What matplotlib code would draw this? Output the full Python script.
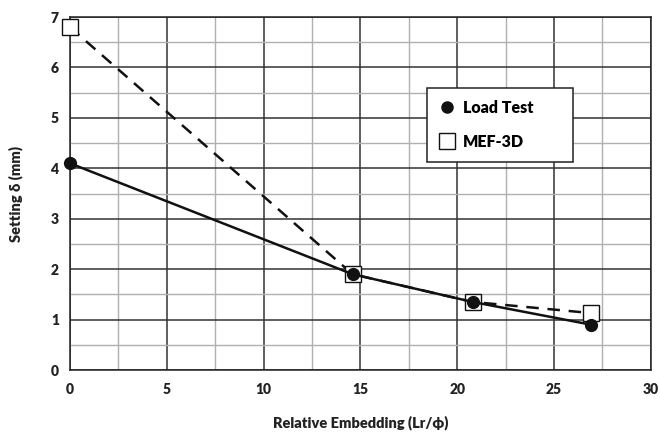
import matplotlib
matplotlib.use("Agg")
import matplotlib.pyplot as plt
from matplotlib.ticker import MultipleLocator
from matplotlib.lines import Line2D

plt.rcParams['font.family'] = ['Lato', 'DejaVu Sans']

x_vals = [0, 14.6, 20.8, 26.9]
load_test = [4.1, 1.9, 1.35, 0.9]
mef_3d = [6.8, 1.9, 1.35, 1.13]

fig = plt.figure(figsize=(6.6, 4.32), dpi=100)
ax = fig.add_axes([0.106, 0.1435, 0.880, 0.817])

ax.set_xlim(0, 30)
ax.set_ylim(0, 7)
ax.xaxis.set_major_locator(MultipleLocator(5))
ax.xaxis.set_minor_locator(MultipleLocator(2.5))
ax.yaxis.set_major_locator(MultipleLocator(1))
ax.yaxis.set_minor_locator(MultipleLocator(0.5))
ax.grid(which='major', color='#333333', linewidth=1.1)
ax.grid(which='minor', color='#b0b0b0', linewidth=1.0)
ax.set_axisbelow(True)
for s in ax.spines.values():
    s.set_color('#222222')
    s.set_linewidth(1.1)
ax.tick_params(which='both', length=0)
ax.tick_params(axis='x', which='major', labelsize=10, pad=9)
ax.tick_params(axis='y', which='major', labelsize=10, pad=8)
for lbl in ax.get_xticklabels() + ax.get_yticklabels():
    lbl.set_fontweight('heavy')
    lbl.set_color('#222222')

ax.plot(x_vals, mef_3d, linestyle=(0, (5, 3.5)), color='#111111', linewidth=1.8,
        marker='s', markersize=12, markerfacecolor='white', markeredgecolor='#111111',
        markeredgewidth=1.0, clip_on=False, zorder=3, label='MEF-3D')
ax.plot(x_vals, load_test, linestyle='-', color='#111111', linewidth=1.8,
        marker='o', markersize=8.5, markerfacecolor='#111111', markeredgecolor='#111111',
        clip_on=False, zorder=4, label='Load Test')

h1 = Line2D([], [], linestyle='none', marker='o', markersize=8, color='#111111')
h2 = Line2D([], [], linestyle='none', marker='s', markersize=12,
            markerfacecolor='white', markeredgecolor='#111111', markeredgewidth=1.0)
leg = ax.legend([h1, h2], ['Load Test', 'MEF-3D'], loc='upper left',
                bbox_to_anchor=(0.614, 0.595, 0.252, 0.205), mode='expand',
                borderaxespad=0, frameon=True, fancybox=False,
                edgecolor='#222222', framealpha=1, borderpad=0.75,
                labelspacing=1.15, handletextpad=0.5, handlelength=1.0,
                prop={'weight': 'heavy', 'size': 11.5})
leg.get_frame().set_linewidth(1.1)
leg.set_zorder(6)

ax.set_xlabel('Relative Embedding (Lr/ϕ)', fontsize=10.5, fontweight='heavy',
              color='#222222', labelpad=14)
ax.set_ylabel('Setting δ (mm)', fontsize=10.5, fontweight='heavy', color='#222222',
              labelpad=20)

fig.savefig('out.png', dpi=100)
